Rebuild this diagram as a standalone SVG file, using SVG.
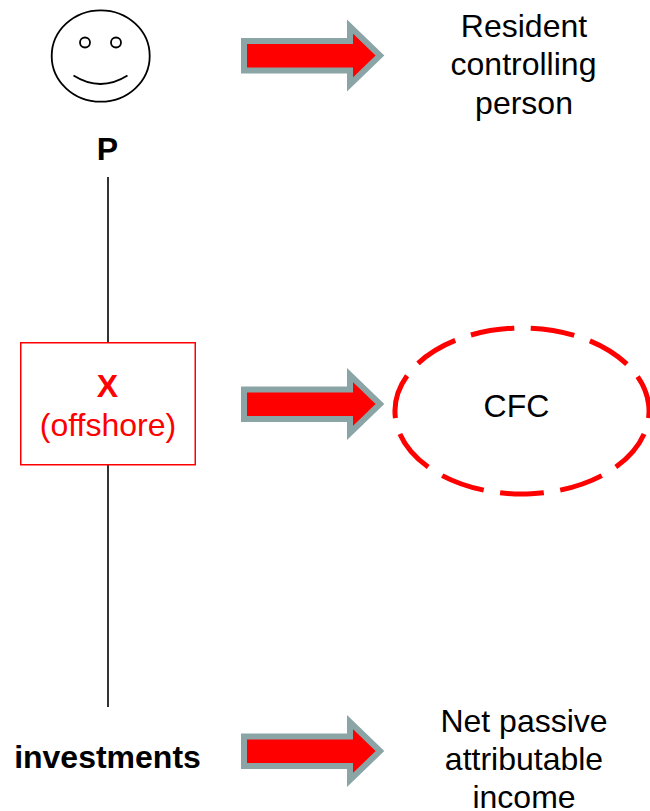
<svg xmlns="http://www.w3.org/2000/svg" width="650" height="811" viewBox="0 0 650 811">
<style>
text{font-family:"Liberation Sans",Arial,sans-serif;font-size:32px;text-anchor:middle;fill:#000}
.b{font-weight:bold}
.r{fill:#f00}
.arrow{fill:#f00;stroke:#8ba5a6;stroke-width:6;stroke-miterlimit:10}
.face{fill:none;stroke:#000;stroke-width:1.8}
.conn{stroke:#000;stroke-width:1.6;fill:none}
</style>
<defs>
<polygon id="arr" points="244,41 350,41 350,26.5 380,55.5 350,84.5 350,70.5 244,70.5"/>
</defs>
<rect width="650" height="811" fill="#fff"/>
<g id="connectors">
<line class="conn" x1="108" y1="177" x2="108" y2="342"/>
<line class="conn" x1="108" y1="465" x2="108" y2="707"/>
<use href="#arr" class="arrow"/>
<use href="#arr" class="arrow" y="348.5"/>
<use href="#arr" class="arrow" y="695.5"/>
</g>
<g id="person">
<ellipse class="face" cx="100.7" cy="56" rx="49" ry="45.7"/>
<circle class="face" cx="85" cy="42.5" r="5"/>
<circle class="face" cx="116" cy="42.5" r="5"/>
<path class="face" d="M73.5 75.5Q100.5 92.5 127.5 75.5"/>
<text x="107.5" y="160" class="b">P</text>
</g>
<g id="x-offshore">
<rect x="20.75" y="342.75" width="174.5" height="122" fill="#fff" stroke="#f00" stroke-width="1.5"/>
<text x="107.5" y="397" class="b r">X</text>
<text x="108" y="436" class="r">(offshore)</text>
</g>
<g id="cfc">
<path d="M395.3 417A127 83 0 0 1 648.7 405A127 83 0 0 1 395.3 417" fill="none" stroke="#f00" stroke-width="5" stroke-dasharray="44 16.5"/>
<text x="516.5" y="417">CFC</text>
</g>
<g id="investments"><text x="107.5" y="768" class="b">investments</text></g>
<g id="resident">
<text x="524" y="37">Resident</text>
<text x="523.5" y="75">controlling</text>
<text x="524" y="114">person</text>
</g>
<g id="net-passive">
<text x="524" y="732">Net passive</text>
<text x="524" y="769.5">attributable</text>
<text x="524" y="808">income</text>
</g>
</svg>
